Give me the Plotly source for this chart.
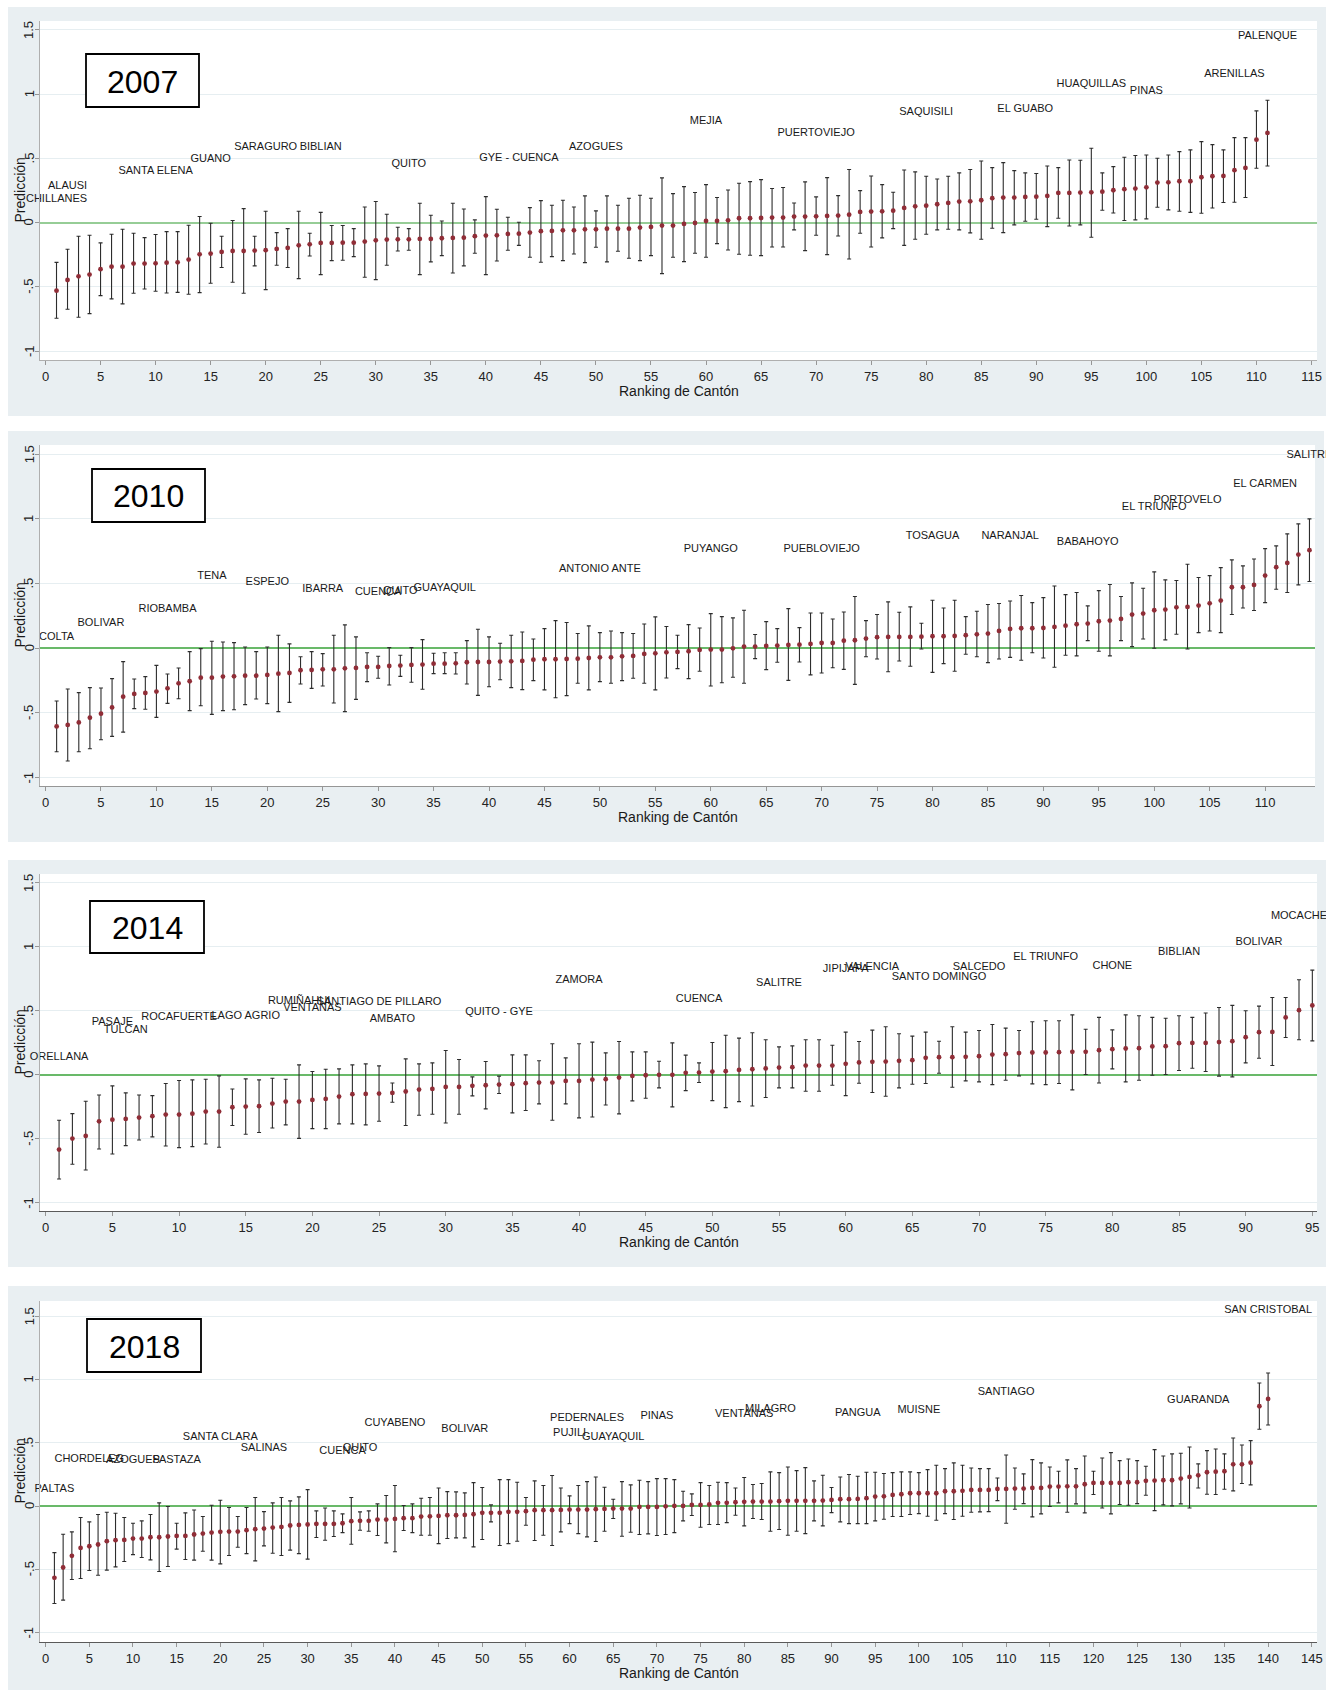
import plotly.graph_objects as go

W, H = 1341, 1691

# ---------------- 2007 ----------------
pred07 = [-0.530, -0.447, -0.418, -0.405, -0.363, -0.343, -0.343, -0.319, -0.319, -0.317,
          -0.312, -0.309, -0.288, -0.247, -0.241, -0.228, -0.221, -0.221, -0.218, -0.215,
          -0.205, -0.197, -0.177, -0.169, -0.158, -0.158, -0.156, -0.156, -0.148, -0.138,
          -0.132, -0.130, -0.130, -0.127, -0.127, -0.122, -0.119, -0.117, -0.106, -0.101,
          -0.099, -0.088, -0.086, -0.078, -0.067, -0.065, -0.060, -0.060, -0.052, -0.052,
          -0.047, -0.047, -0.047, -0.039, -0.034, -0.023, -0.023, -0.010, -0.003, 0.013,
          0.013, 0.018, 0.034, 0.034, 0.036, 0.039, 0.039, 0.047, 0.047, 0.049,
          0.052, 0.055, 0.062, 0.083, 0.086, 0.088, 0.093, 0.114, 0.127, 0.132,
          0.143, 0.153, 0.164, 0.166, 0.174, 0.190, 0.195, 0.195, 0.200, 0.202,
          0.208, 0.231, 0.231, 0.234, 0.236, 0.241, 0.252, 0.260, 0.265, 0.275,
          0.312, 0.314, 0.322, 0.322, 0.353, 0.361, 0.363, 0.408, 0.426, 0.646,
          0.698]
upper07 = [-0.310, -0.208, -0.106, -0.099, -0.158, -0.091, -0.052, -0.083, -0.117, -0.093,
           -0.070, -0.070, -0.021, 0.047, -0.005, -0.106, 0.016, 0.109, -0.106, 0.088,
           -0.078, -0.047, 0.088, -0.083, 0.080, -0.023, -0.023, -0.047, 0.122, 0.164,
           0.065, -0.036, -0.047, 0.151, 0.057, 0.013, 0.151, 0.106, 0.021, 0.202,
           0.104, 0.042, 0.003, 0.117, 0.171, 0.135, 0.174, 0.122, 0.208, 0.091,
           0.208, 0.135, 0.190, 0.213, 0.190, 0.348, 0.226, 0.280, 0.234, 0.296,
           0.195, 0.254, 0.306, 0.319, 0.335, 0.265, 0.273, 0.153, 0.317, 0.200,
           0.350, 0.210, 0.413, 0.249, 0.363, 0.296, 0.236, 0.410, 0.395, 0.361,
           0.340, 0.361, 0.387, 0.413, 0.480, 0.428, 0.467, 0.405, 0.387, 0.382,
           0.441, 0.428, 0.488, 0.485, 0.579, 0.387, 0.436, 0.509, 0.522, 0.527,
           0.501, 0.527, 0.553, 0.566, 0.631, 0.607, 0.566, 0.662, 0.662, 0.870,
           0.953]
lower07 = [-0.745, -0.675, -0.737, -0.709, -0.569, -0.594, -0.633, -0.550, -0.517, -0.535,
           -0.548, -0.543, -0.558, -0.545, -0.472, -0.350, -0.465, -0.550, -0.337, -0.522,
           -0.332, -0.350, -0.436, -0.260, -0.405, -0.296, -0.293, -0.265, -0.426, -0.444,
           -0.332, -0.221, -0.215, -0.405, -0.306, -0.257, -0.392, -0.337, -0.239, -0.405,
           -0.299, -0.215, -0.177, -0.270, -0.309, -0.265, -0.296, -0.244, -0.312, -0.192,
           -0.306, -0.223, -0.278, -0.296, -0.257, -0.397, -0.270, -0.304, -0.239, -0.270,
           -0.164, -0.213, -0.247, -0.254, -0.257, -0.190, -0.190, -0.057, -0.218, -0.099,
           -0.249, -0.104, -0.283, -0.083, -0.190, -0.119, -0.047, -0.177, -0.130, -0.091,
           -0.057, -0.052, -0.057, -0.080, -0.130, -0.044, -0.078, -0.018, 0.010, 0.026,
           -0.031, 0.034, -0.026, -0.018, -0.114, 0.096, 0.075, 0.016, 0.021, 0.029,
           0.119, 0.099, 0.088, 0.080, 0.073, 0.114, 0.156, 0.158, 0.195, 0.423,
           0.441]
names07 = ["CHILLANES", "ALAUSI", "SANTA ELENA", "GUANO", "SARAGURO", "BIBLIAN", "QUITO",
           "GYE - CUENCA", "AZOGUES", "MEJIA", "PUERTOVIEJO", "SAQUISILI", "EL GUABO",
           "HUAQUILLAS", "PINAS", "ARENILLAS", "PALENQUE"]
name_x07 = [1, 2, 10, 15, 20, 25, 33, 43, 50, 60, 70, 80, 89, 95, 100, 108, 111]
name_y07 = [0.182, 0.286, 0.402, 0.491, 0.584, 0.584, 0.452, 0.501, 0.589, 0.792, 0.696,
            0.857, 0.885, 1.077, 1.025, 1.158, 1.454]

# ---------------- 2010 ----------------
pred10 = [-0.604, -0.593, -0.573, -0.537, -0.506, -0.457, -0.374, -0.353, -0.346, -0.335,
          -0.310, -0.271, -0.255, -0.227, -0.227, -0.219, -0.217, -0.212, -0.212, -0.206,
          -0.196, -0.191, -0.170, -0.168, -0.163, -0.163, -0.155, -0.152, -0.144, -0.144,
          -0.137, -0.134, -0.129, -0.126, -0.119, -0.119, -0.116, -0.108, -0.106, -0.106,
          -0.103, -0.101, -0.098, -0.088, -0.085, -0.085, -0.083, -0.080, -0.075, -0.070,
          -0.070, -0.062, -0.059, -0.044, -0.039, -0.031, -0.028, -0.023, -0.013, -0.010,
          -0.010, 0.000, 0.013, 0.013, 0.018, 0.021, 0.026, 0.028, 0.034, 0.041,
          0.041, 0.059, 0.062, 0.075, 0.086, 0.088, 0.088, 0.088, 0.090, 0.093,
          0.093, 0.095, 0.101, 0.108, 0.114, 0.134, 0.150, 0.155, 0.155, 0.157,
          0.165, 0.175, 0.186, 0.191, 0.209, 0.214, 0.227, 0.261, 0.268, 0.294,
          0.299, 0.317, 0.320, 0.330, 0.348, 0.369, 0.472, 0.472, 0.490, 0.562,
          0.627, 0.660, 0.725, 0.759]
upper10 = [-0.408, -0.315, -0.343, -0.304, -0.307, -0.235, -0.103, -0.237, -0.219, -0.132,
           -0.199, -0.152, -0.026, -0.003, 0.054, 0.049, 0.044, 0.010, -0.026, 0.010,
           0.101, 0.034, -0.065, -0.026, -0.041, 0.101, 0.181, 0.088, -0.034, -0.062,
           0.005, -0.054, 0.005, 0.067, -0.039, -0.034, -0.034, 0.059, 0.147, 0.088,
           0.039, 0.101, 0.126, 0.072, 0.152, 0.214, 0.199, 0.114, 0.173, 0.121,
           0.134, 0.121, 0.114, 0.188, 0.243, 0.168, 0.101, 0.183, 0.157, 0.268,
           0.245, 0.235, 0.294, 0.106, 0.206, 0.152, 0.307, 0.160, 0.273, 0.273,
           0.227, 0.281, 0.400, 0.214, 0.261, 0.359, 0.279, 0.320, 0.193, 0.372,
           0.312, 0.372, 0.245, 0.286, 0.338, 0.346, 0.366, 0.408, 0.353, 0.392,
           0.482, 0.415, 0.431, 0.328, 0.446, 0.493, 0.400, 0.506, 0.464, 0.591,
           0.529, 0.524, 0.650, 0.547, 0.562, 0.624, 0.684, 0.637, 0.691, 0.771,
           0.792, 0.885, 0.962, 1.001]
lower10 = [-0.800, -0.872, -0.800, -0.777, -0.707, -0.681, -0.648, -0.467, -0.472, -0.534,
           -0.426, -0.390, -0.482, -0.444, -0.511, -0.482, -0.475, -0.436, -0.392, -0.428,
           -0.490, -0.418, -0.276, -0.310, -0.292, -0.423, -0.490, -0.395, -0.258, -0.232,
           -0.284, -0.217, -0.263, -0.317, -0.196, -0.196, -0.199, -0.276, -0.364, -0.297,
           -0.243, -0.304, -0.320, -0.250, -0.322, -0.382, -0.366, -0.271, -0.322, -0.258,
           -0.271, -0.250, -0.232, -0.271, -0.322, -0.230, -0.157, -0.235, -0.178, -0.292,
           -0.266, -0.224, -0.271, -0.080, -0.165, -0.108, -0.248, -0.106, -0.206, -0.191,
           -0.150, -0.163, -0.279, -0.065, -0.083, -0.181, -0.098, -0.139, -0.005, -0.186,
           -0.119, -0.178, -0.046, -0.065, -0.111, -0.083, -0.070, -0.093, -0.034, -0.075,
           -0.147, -0.054, -0.059, 0.059, -0.023, -0.059, 0.059, 0.013, 0.072, 0.000,
           0.065, 0.108, -0.005, 0.121, 0.134, 0.121, 0.261, 0.312, 0.292, 0.353,
           0.457, 0.431, 0.490, 0.516]
names10 = ["COLTA", "BOLIVAR", "RIOBAMBA", "TENA", "ESPEJO", "IBARRA", "CUENCA", "QUITO",
           "GUAYAQUIL", "ANTONIO ANTE", "PUYANGO", "PUEBLOVIEJO", "TOSAGUA", "NARANJAL",
           "BABAHOYO", "EL TRIUNFO", "PORTOVELO", "EL CARMEN", "SALITRE"]
name_x10 = [1, 5, 11, 15, 20, 25, 30, 32, 36, 50, 60, 70, 80, 87, 94, 100, 103, 110, 114]
name_y10 = [0.088, 0.191, 0.299, 0.555, 0.508, 0.459, 0.433, 0.439, 0.464, 0.614, 0.766,
            0.766, 0.864, 0.864, 0.820, 1.089, 1.148, 1.267, 1.494]

# ---------------- 2014 ----------------
pred14 = [-0.584, -0.498, -0.477, -0.363, -0.350, -0.344, -0.334, -0.323, -0.310, -0.310,
          -0.303, -0.287, -0.287, -0.253, -0.248, -0.245, -0.224, -0.209, -0.209, -0.196,
          -0.188, -0.170, -0.151, -0.149, -0.146, -0.141, -0.130, -0.115, -0.110, -0.094,
          -0.094, -0.086, -0.081, -0.076, -0.073, -0.065, -0.060, -0.060, -0.047, -0.047,
          -0.037, -0.034, -0.021, -0.008, -0.003, 0.000, 0.000, 0.016, 0.018, 0.026,
          0.029, 0.039, 0.044, 0.050, 0.057, 0.060, 0.073, 0.073, 0.073, 0.086,
          0.097, 0.102, 0.104, 0.110, 0.115, 0.133, 0.138, 0.138, 0.141, 0.146,
          0.159, 0.162, 0.170, 0.175, 0.175, 0.177, 0.180, 0.180, 0.193, 0.201,
          0.206, 0.209, 0.222, 0.224, 0.248, 0.250, 0.250, 0.256, 0.263, 0.295,
          0.334, 0.336, 0.449, 0.506, 0.543]
upper14 = [-0.355, -0.303, -0.206, -0.157, -0.086, -0.141, -0.157, -0.162, -0.068, -0.044,
           -0.039, -0.034, -0.008, -0.110, -0.031, -0.039, -0.026, -0.034, 0.078, 0.026,
           0.044, 0.047, 0.078, 0.086, 0.070, -0.063, 0.125, 0.086, 0.094, 0.190,
           0.120, -0.016, 0.104, -0.010, 0.156, 0.156, 0.110, 0.243, 0.133, 0.243,
           0.256, 0.172, 0.261, 0.180, 0.180, 0.107, 0.250, 0.154, 0.094, 0.253,
           0.310, 0.287, 0.329, 0.274, 0.219, 0.227, 0.274, 0.274, 0.232, 0.334,
           0.261, 0.350, 0.376, 0.321, 0.303, 0.334, 0.263, 0.376, 0.334, 0.347,
           0.394, 0.365, 0.347, 0.415, 0.423, 0.423, 0.469, 0.357, 0.449, 0.352,
           0.469, 0.462, 0.449, 0.443, 0.462, 0.449, 0.483, 0.527, 0.543, 0.501,
           0.537, 0.605, 0.605, 0.743, 0.819]
lower14 = [-0.814, -0.699, -0.743, -0.579, -0.618, -0.553, -0.509, -0.485, -0.556, -0.569,
           -0.561, -0.540, -0.566, -0.396, -0.464, -0.451, -0.415, -0.391, -0.496, -0.420,
           -0.420, -0.383, -0.383, -0.391, -0.363, -0.214, -0.396, -0.316, -0.308, -0.376,
           -0.308, -0.164, -0.266, -0.146, -0.297, -0.279, -0.227, -0.355, -0.227, -0.336,
           -0.329, -0.235, -0.305, -0.203, -0.183, -0.102, -0.250, -0.123, -0.060, -0.201,
           -0.256, -0.209, -0.243, -0.177, -0.102, -0.102, -0.128, -0.128, -0.081, -0.162,
           -0.065, -0.138, -0.167, -0.102, -0.073, -0.068, 0.013, -0.097, -0.047, -0.055,
           -0.076, -0.042, -0.008, -0.070, -0.076, -0.068, -0.117, 0.003, -0.063, 0.047,
           -0.055, -0.042, -0.003, 0.003, 0.034, 0.052, 0.026, -0.010, -0.016, 0.094,
           0.130, 0.073, 0.292, 0.274, 0.266]
names14 = ["ORELLANA", "PASAJE", "TULCAN", "ROCAFUERTE", "LAGO AGRIO", "RUMIÑAHUI",
           "VENTANAS", "SANTIAGO DE PILLARO", "AMBATO", "QUITO - GYE", "ZAMORA", "CUENCA",
           "SALITRE", "JIPIJAPA", "VALENCIA", "SANTO DOMINGO", "SALCEDO", "EL TRIUNFO",
           "CHONE", "BIBLIAN", "BOLIVAR", "MOCACHE"]
name_x14 = [1, 5, 6, 10, 15, 19, 20, 25, 26, 34, 40, 49, 55, 60, 62, 67, 70, 75, 80, 85, 91, 94]
name_y14 = [0.136, 0.410, 0.352, 0.454, 0.462, 0.574, 0.522, 0.566, 0.433, 0.488, 0.738,
            0.589, 0.717, 0.829, 0.842, 0.762, 0.845, 0.918, 0.850, 0.957, 1.035, 1.236]

# ---------------- 2018 ----------------
pred18 = [-0.568, -0.486, -0.394, -0.331, -0.318, -0.304, -0.278, -0.270, -0.268, -0.257,
          -0.257, -0.247, -0.247, -0.241, -0.236, -0.236, -0.225, -0.218, -0.210, -0.204,
          -0.202, -0.202, -0.191, -0.183, -0.178, -0.170, -0.165, -0.154, -0.149, -0.146,
          -0.141, -0.141, -0.141, -0.136, -0.120, -0.117, -0.117, -0.107, -0.107, -0.102,
          -0.096, -0.096, -0.083, -0.081, -0.078, -0.073, -0.073, -0.070, -0.065, -0.054,
          -0.054, -0.054, -0.046, -0.046, -0.041, -0.033, -0.033, -0.033, -0.031, -0.028,
          -0.028, -0.028, -0.025, -0.023, -0.020, -0.020, -0.020, -0.007, -0.007, -0.007,
          -0.002, 0.001, 0.001, 0.009, 0.009, 0.012, 0.025, 0.025, 0.030, 0.033,
          0.035, 0.035, 0.035, 0.038, 0.041, 0.041, 0.041, 0.041, 0.043, 0.048,
          0.054, 0.054, 0.056, 0.062, 0.075, 0.077, 0.088, 0.093, 0.101, 0.101,
          0.101, 0.101, 0.117, 0.117, 0.120, 0.127, 0.127, 0.127, 0.135, 0.135,
          0.138, 0.138, 0.143, 0.143, 0.154, 0.154, 0.156, 0.156, 0.172, 0.183,
          0.183, 0.183, 0.183, 0.188, 0.188, 0.199, 0.201, 0.204, 0.204, 0.217,
          0.230, 0.243, 0.267, 0.272, 0.275, 0.330, 0.330, 0.343, 0.789, 0.847]
upper18 = [-0.368, -0.223, -0.204, -0.091, -0.125, -0.067, -0.049, -0.057, -0.091, -0.136,
           -0.117, -0.067, 0.025, -0.004, -0.136, -0.054, -0.031, -0.083, 0.006, 0.046,
           -0.012, -0.083, -0.012, 0.067, -0.044, 0.025, 0.067, 0.041, 0.072, 0.130,
           -0.038, -0.015, -0.038, -0.062, 0.067, -0.046, -0.038, 0.017, 0.083, 0.162,
           0.004, 0.017, 0.062, 0.067, 0.143, 0.114, 0.112, 0.104, 0.185, 0.146,
           0.009, 0.209, 0.209, 0.188, 0.067, 0.199, 0.162, 0.241, 0.143, 0.080,
           0.162, 0.193, 0.230, 0.149, 0.054, 0.193, 0.167, 0.204, 0.193, 0.217,
           0.217, 0.209, 0.117, 0.096, 0.185, 0.162, 0.188, 0.185, 0.143, 0.225,
           0.170, 0.178, 0.270, 0.264, 0.309, 0.280, 0.304, 0.199, 0.243, 0.146,
           0.230, 0.249, 0.235, 0.267, 0.267, 0.257, 0.264, 0.270, 0.270, 0.264,
           0.288, 0.322, 0.296, 0.341, 0.322, 0.301, 0.296, 0.296, 0.222, 0.404,
           0.301, 0.254, 0.367, 0.341, 0.309, 0.275, 0.365, 0.296, 0.396, 0.275,
           0.380, 0.422, 0.359, 0.372, 0.359, 0.315, 0.446, 0.396, 0.412, 0.417,
           0.467, 0.333, 0.438, 0.451, 0.412, 0.538, 0.483, 0.517, 0.973, 1.052]
lower18 = [-0.771, -0.744, -0.581, -0.573, -0.510, -0.547, -0.507, -0.481, -0.439, -0.384,
           -0.407, -0.426, -0.518, -0.478, -0.341, -0.423, -0.428, -0.357, -0.428, -0.457,
           -0.391, -0.326, -0.376, -0.434, -0.315, -0.373, -0.391, -0.349, -0.376, -0.420,
           -0.249, -0.270, -0.241, -0.210, -0.302, -0.191, -0.199, -0.233, -0.291, -0.362,
           -0.194, -0.210, -0.231, -0.231, -0.297, -0.257, -0.252, -0.252, -0.323, -0.265,
           -0.125, -0.312, -0.297, -0.278, -0.152, -0.273, -0.231, -0.312, -0.204, -0.139,
           -0.218, -0.244, -0.281, -0.199, -0.099, -0.239, -0.207, -0.225, -0.220, -0.233,
           -0.225, -0.210, -0.117, -0.075, -0.168, -0.146, -0.146, -0.131, -0.073, -0.157,
           -0.099, -0.107, -0.199, -0.186, -0.231, -0.199, -0.218, -0.117, -0.157, -0.052,
           -0.125, -0.139, -0.139, -0.139, -0.117, -0.104, -0.083, -0.083, -0.067, -0.060,
           -0.081, -0.112, -0.060, -0.107, -0.081, -0.049, -0.046, -0.044, 0.043, -0.136,
           -0.025, 0.019, -0.086, -0.062, -0.004, 0.025, -0.049, 0.017, -0.054, 0.091,
           -0.015, -0.062, 0.012, 0.006, 0.019, 0.085, -0.036, 0.009, 0.001, 0.017,
           -0.015, 0.143, 0.093, 0.091, 0.133, 0.120, 0.178, 0.167, 0.607, 0.641]
names18 = ["PALTAS", "CHORDELEG", "AZOGUES", "PASTAZA", "SANTA CLARA", "SALINAS", "CUENCA",
           "QUITO", "CUYABENO", "BOLIVAR", "PUJILI", "PEDERNALES", "GUAYAQUIL", "PINAS",
           "VENTANAS", "MILAGRO", "PANGUA", "MUISNE", "SANTIAGO", "GUARANDA", "SAN CRISTOBAL"]
name_x18 = [1, 5, 10, 15, 20, 25, 34, 36, 40, 48, 60, 62, 65, 70, 80, 83, 93, 100, 110, 132, 140]
name_y18 = [0.133, 0.372, 0.359, 0.362, 0.546, 0.457, 0.436, 0.454, 0.657, 0.607, 0.578,
            0.691, 0.546, 0.712, 0.723, 0.765, 0.736, 0.757, 0.902, 0.836, 1.550]

ytick_vals = [-1, -0.5, 0, 0.5, 1, 1.5]
ytick_text = ["-1", "-.5", "0", ".5", "1", "1.5"]

# Panel geometry in pixels: outer region, plot area, axis ranges, year box
panels = [
    dict(year="2007", pred=pred07, up=upper07, lo=lower07, names=names07, nx=name_x07, ny=name_y07,
         outer=(8, 7, 1326, 416), plot=(40, 21, 1317, 360), xr=[-0.5, 115.5], yr=[-1.07, 1.57],
         xmax=115, box=(86, 54, 199, 107), axcol="rgb(175,175,175)", zl="rgb(150,205,150)"),
    dict(year="2010", pred=pred10, up=upper10, lo=lower10, names=names10, nx=name_x10, ny=name_y10,
         outer=(8, 431, 1324, 842), plot=(40, 445, 1315, 786), xr=[-0.5, 114.5], yr=[-1.065, 1.572],
         xmax=110, box=(92, 469, 205, 522), axcol="rgb(150,150,150)", zl="rgb(105,185,105)"),
    dict(year="2014", pred=pred14, up=upper14, lo=lower14, names=names14, nx=name_x14, ny=name_y14,
         outer=(8, 860, 1326, 1267), plot=(40, 874, 1317, 1211), xr=[-0.43, 95.35], yr=[-1.064, 1.57],
         xmax=95, box=(90, 901, 204, 953), axcol="rgb(90,90,90)", zl="rgb(105,185,105)"),
    dict(year="2018", pred=pred18, up=upper18, lo=lower18, names=names18, nx=name_x18, ny=name_y18,
         outer=(8, 1286, 1326, 1690), plot=(40, 1301, 1317, 1642), xr=[-0.65, 145.6], yr=[-1.075, 1.621],
         xmax=145, box=(87, 1319, 201, 1372), axcol="rgb(90,90,90)", zl="rgb(105,185,105)"),
]

FONT = "Liberation Sans, Arial, Helvetica, sans-serif"
MAROON = "rgb(144,45,55)"
BG = "rgb(233,239,242)"


def px(xp):
    return xp / W


def py(yp):
    return 1 - yp / H


fig = go.Figure()
shapes = []
annotations = []
layout_axes = {}

for i, p in enumerate(panels, start=1):
    xa = "x" if i == 1 else f"x{i}"
    ya = "y" if i == 1 else f"y{i}"
    x0, y0, x1, y1 = p["plot"]
    ox0, oy0, ox1, oy1 = p["outer"]

    # outer graph region and white plot region
    shapes.append(dict(type="rect", xref="paper", yref="paper", x0=px(ox0), x1=px(ox1),
                       y0=py(oy1), y1=py(oy0), fillcolor=BG, line=dict(width=0), layer="below"))
    shapes.append(dict(type="rect", xref="paper", yref="paper", x0=px(x0), x1=px(x1),
                       y0=py(y1), y1=py(y0), fillcolor="white", line=dict(width=0), layer="below"))

    ranks = list(range(1, len(p["pred"]) + 1))
    plus = [u - v for u, v in zip(p["up"], p["pred"])]
    minus = [v - l for v, l in zip(p["pred"], p["lo"])]

    fig.add_trace(go.Scatter(
        x=ranks, y=p["pred"], xaxis=xa, yaxis=ya, mode="markers",
        marker=dict(color=MAROON, size=4.8, line=dict(width=0)),
        error_y=dict(type="data", symmetric=False, array=plus, arrayminus=minus,
                     color="rgb(45,45,45)", thickness=1.1, width=2),
        showlegend=False, hoverinfo="skip"))

    fig.add_trace(go.Scatter(
        x=p["nx"], y=p["ny"], xaxis=xa, yaxis=ya, mode="text", text=p["names"],
        textposition="middle center",
        textfont=dict(family=FONT, size=11, color="rgb(25,25,25)"),
        cliponaxis=False, showlegend=False, hoverinfo="skip"))

    xkey = "xaxis" if i == 1 else f"xaxis{i}"
    ykey = "yaxis" if i == 1 else f"yaxis{i}"
    layout_axes[xkey] = dict(
        domain=[px(x0), px(x1)], range=p["xr"], anchor=ya, automargin=False,
        tickmode="array", tickvals=list(range(0, p["xmax"] + 1, 5)),
        ticks="outside", ticklen=4, tickcolor="rgb(150,150,150)", tickwidth=1,
        tickfont=dict(family=FONT, size=13, color="rgb(35,35,35)"),
        showgrid=False, zeroline=False, showline=True, linecolor=p["axcol"], linewidth=1,
        fixedrange=True)
    layout_axes[ykey] = dict(
        domain=[py(y1), py(y0)], range=p["yr"], anchor=xa, automargin=False,
        tickmode="array", tickvals=ytick_vals, showticklabels=False,
        ticks="outside", ticklen=4, tickcolor="rgb(150,150,150)", tickwidth=1,
        showgrid=True, gridcolor="rgb(230,238,241)", gridwidth=1,
        zeroline=True, zerolinecolor=p["zl"], zerolinewidth=1.6,
        showline=True, linecolor="rgb(175,175,175)", linewidth=1, fixedrange=True)

    # vertical y tick labels
    for v, t in zip(ytick_vals, ytick_text):
        annotations.append(dict(xref="paper", yref=ya, x=px(29), y=v, text=t, showarrow=False,
                                textangle=-90, xanchor="center", yanchor="middle",
                                font=dict(family=FONT, size=13, color="rgb(35,35,35)")))
    # axis titles
    annotations.append(dict(xref="paper", yref="paper", x=px(19), y=py((y0 + y1) / 2),
                            text="Predicción", showarrow=False, textangle=-90,
                            xanchor="center", yanchor="middle",
                            font=dict(family=FONT, size=14, color="rgb(25,25,25)")))
    annotations.append(dict(xref="paper", yref="paper", x=px((x0 + x1) / 2), y=py(y1 + 31),
                            text="Ranking de Cantón", showarrow=False,
                            xanchor="center", yanchor="middle",
                            font=dict(family=FONT, size=14, color="rgb(25,25,25)")))
    # year box
    bx0, by0, bx1, by1 = p["box"]
    shapes.append(dict(type="rect", xref="paper", yref="paper", x0=px(bx0), x1=px(bx1),
                       y0=py(by1), y1=py(by0), fillcolor="white",
                       line=dict(color="black", width=1.8), layer="above"))
    annotations.append(dict(xref="paper", yref="paper", x=px((bx0 + bx1) / 2),
                            y=py((by0 + by1) / 2 + 1), text=p["year"], showarrow=False,
                            xanchor="center", yanchor="middle",
                            font=dict(family=FONT, size=32, color="black")))

# trim labels that run past the right edge of the graph regions
shapes.append(dict(type="rect", xref="paper", yref="paper", x0=px(1326), x1=1.0, y0=0, y1=1,
                   fillcolor="white", line=dict(width=0), layer="above"))

fig.update_layout(
    width=W, height=H, autosize=False,
    margin=dict(l=0, r=0, t=0, b=0, pad=0, autoexpand=False),
    paper_bgcolor="white", plot_bgcolor="rgba(0,0,0,0)",
    shapes=shapes, annotations=annotations, showlegend=False,
    font=dict(family=FONT),
    **layout_axes)

# keep the page exactly the size of the figure (no body margin, no scrollbars)
page_css = ("document.documentElement.style.margin='0';"
            "document.documentElement.style.overflow='hidden';"
            "document.body.style.margin='0';"
            "document.body.style.overflow='hidden';")

fig.write_html("out.html", config={"responsive": False, "displayModeBar": False},
               post_script=page_css)
